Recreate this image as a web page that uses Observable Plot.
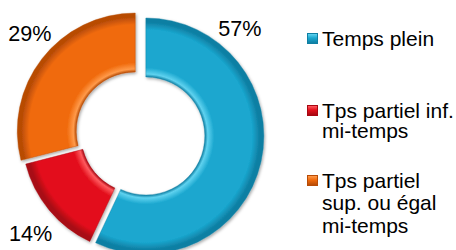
<!DOCTYPE html>
<html>
<head>
<meta charset="utf-8">
<script src="https://cdn.jsdelivr.net/npm/d3@7"></script>
<script src="https://cdn.jsdelivr.net/npm/@observablehq/plot@0.6"></script>
<style>
  html, body { margin: 0; padding: 0; background: #fff; }
  #wrap { position: relative; width: 456px; height: 250px; overflow: hidden;
          font-family: "Liberation Sans", Arial, sans-serif; }
  #wrap svg { position: absolute; left: 0; top: 0; }
  .item { position: absolute; left: 307px; width: 149px; }
  .sw { position: absolute; left: 0; width: 11px; height: 11px; box-sizing: border-box; }
  .lbl { position: absolute; left: 15px; font-size: 21px; color: #000; white-space: pre; }
</style>
</head>
<body>
<div id="wrap"></div>
<script>
// ---- data ----
const categories = ["Temps plein", "Tps partiel inf. mi-temps", "Tps partiel sup. ou égal mi-temps"];
const legendLabels = ["Temps plein", "Tps partiel inf.\nmi-temps", "Tps partiel\nsup. ou égal\nmi-temps"];
const values = [57, 14, 29];
const percentLabels = ["57%", "14%", "29%"];

// ---- styles / layout ----
const palette = ["#1aa7cf", "#e3101c", "#f06a0c"];
const darkPalette = ["#0f7fa3", "#a80812", "#b84c06"];
const lightPalette = ["#5fd2ef", "#ff5a5f", "#ff9a4a"];
const explodePx = [6, 0, 6];
const labelAngleDeg = [43.2, 227.9, 312.5];
const labelRadius = [1.23, 1.256, 1.271];
const cx = 140, cy = 134.7, R = 118, innerRatio = 0.5;

const rows = categories.map((c, i) => ({category: c, value: values[i], label: percentLabels[i]}));
const slices = d3.pie().sort(null).value(d => d.value)(rows);

const labelRows = rows.map((d, i) => {
  const a = labelAngleDeg[i] * Math.PI / 180;
  return {label: d.label, x: Math.sin(a) * labelRadius[i], y: Math.cos(a) * labelRadius[i]};
});

function donut(index, scales) {
  const ox = scales.x(0), oy = scales.y(0), rpx = scales.x(1) - scales.x(0);
  const g = d3.create("svg:g");
  const defs = g.append("defs");
  const f = defs.append("filter").attr("id", "shadow").attr("x", "-20%").attr("y", "-20%").attr("width", "140%").attr("height", "140%");
  f.append("feDropShadow").attr("dx", 1).attr("dy", 1.5).attr("stdDeviation", 1.6)
    .attr("flood-color", "#000").attr("flood-opacity", 0.35);
  const arc = d3.arc().innerRadius(rpx * innerRatio).outerRadius(rpx);
  slices.forEach((s, i) => {
    const grad = defs.append("radialGradient").attr("id", "grad" + i)
      .attr("gradientUnits", "userSpaceOnUse").attr("cx", 0).attr("cy", 0).attr("r", rpx);
    const stops = [
      [innerRatio, darkPalette[i]],
      [innerRatio + 0.025, lightPalette[i]],
      [innerRatio + 0.08, palette[i]],
      [0.9, palette[i]],
      [0.965, darkPalette[i]],
      [1, darkPalette[i]]
    ];
    stops.forEach(([o, c]) => grad.append("stop").attr("offset", o).attr("stop-color", c));
    const mid = (s.startAngle + s.endAngle) / 2;
    const dx = Math.sin(mid) * explodePx[i], dy = -Math.cos(mid) * explodePx[i];
    g.append("path")
      .attr("d", arc(s))
      .attr("transform", `translate(${ox + dx},${oy + dy})`)
      .attr("fill", `url(#grad${i})`)
      .attr("stroke", darkPalette[i])
      .attr("stroke-opacity", 0.5)
      .attr("stroke-width", 0.8)
      .attr("filter", "url(#shadow)");
  });
  return g.node();
}

const chart = Plot.plot({
  width: 456,
  height: 250,
  margin: 0,
  x: {type: "linear", domain: [-1, 1], range: [cx - R, cx + R], axis: null},
  y: {type: "linear", domain: [-1, 1], range: [cy + R, cy - R], axis: null},
  style: {background: "transparent", fontFamily: "Liberation Sans, Arial, sans-serif"},
  marks: [
    donut,
    Plot.text(labelRows, {x: "x", y: "y", text: "label", fontSize: 21.6, fill: "#000",
      textAnchor: "middle", lineAnchor: "middle"})
  ]
});

const wrap = document.getElementById("wrap");
wrap.appendChild(chart);

// legend (HTML)
const itemTop = [28.5, 100.8, 169.8];
const lineH = [20, 20, 22.5];
const swTop = [4.7, 4.2, 5.2];
legendLabels.forEach((t, i) => {
  const it = document.createElement("div");
  it.className = "item";
  it.style.top = itemTop[i] + "px";
  const sw = document.createElement("div");
  sw.className = "sw";
  sw.style.top = swTop[i] + "px";
  sw.style.background = `linear-gradient(${lightPalette[i]}, ${palette[i]} 45%, ${darkPalette[i]})`;
  sw.style.border = `1px solid ${darkPalette[i]}`;
  const lb = document.createElement("div");
  lb.className = "lbl";
  lb.style.lineHeight = lineH[i] + "px";
  lb.textContent = t;
  it.appendChild(sw);
  it.appendChild(lb);
  wrap.appendChild(it);
});
</script>
</body>
</html>
